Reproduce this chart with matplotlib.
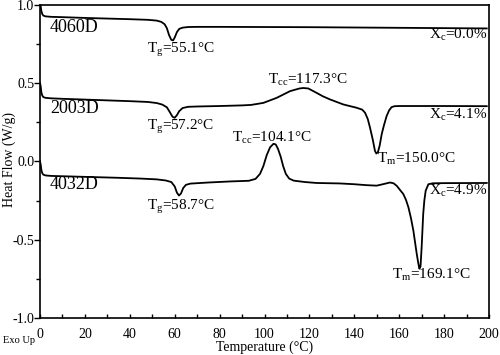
import numpy as np
import matplotlib
matplotlib.use('Agg')
import matplotlib.pyplot as plt
from matplotlib.ticker import MultipleLocator

plt.rcParams.update({
    'font.family': 'Liberation Serif',
    'mathtext.fontset': 'custom',
    'mathtext.rm': 'Liberation Serif',
    'axes.unicode_minus': False,
})

# DSC curves: temperature (°C), heat flow (W/g)
t_4060 = [0, 0.3, 0.6, 1.0, 1.5, 2.5, 5, 10, 20, 30, 40, 48, 52, 54, 55.5, 56.5,
          57.5, 58.5, 59.3, 60.0, 61, 62, 63.5, 66, 70, 80, 100, 120, 140, 160,
          180, 199]
hf_4060 = [1.00, 0.99, 0.96, 0.94, 0.930, 0.925, 0.922, 0.920, 0.915, 0.911,
           0.907, 0.903, 0.898, 0.890, 0.875, 0.850, 0.805, 0.775, 0.772, 0.790,
           0.825, 0.845, 0.853, 0.857, 0.858, 0.858, 0.857, 0.856, 0.854, 0.852,
           0.850, 0.848]

t_2003 = [0, 0.3, 0.6, 1.0, 1.5, 2.5, 5, 10, 20, 30, 40, 48, 52, 54.5, 56.5,
          57.8, 59, 60, 61, 62, 63.5, 66, 70, 80, 90, 94, 99.5, 105.4, 111.4,
          115.6, 117.3, 119.5, 123.2, 126, 129.2, 135.1, 141, 143.5, 144.8, 146,
          147, 148.2, 149.2, 149.8, 150.5, 151.3, 152.2, 153.3, 154.4, 155.5,
          156.6, 158, 160, 180, 199]
hf_2003 = [0.50, 0.48, 0.44, 0.42, 0.41, 0.405, 0.402, 0.399, 0.394, 0.389,
           0.384, 0.379, 0.372, 0.362, 0.345, 0.315, 0.285, 0.278, 0.295, 0.320,
           0.340, 0.348, 0.350, 0.353, 0.357, 0.360, 0.373, 0.405, 0.448, 0.465,
           0.468, 0.465, 0.437, 0.415, 0.395, 0.363, 0.342, 0.330, 0.310, 0.270,
           0.215, 0.140, 0.067, 0.050, 0.058, 0.100, 0.173, 0.235, 0.289, 0.325,
           0.346, 0.352, 0.353, 0.353, 0.352]

t_4032 = [0, 0.3, 0.6, 1.0, 1.5, 2.5, 5, 15, 25, 35, 45, 52, 56, 58.5, 60, 61,
          61.9, 62.8, 63.8, 65, 67, 75, 85, 93, 96, 98, 99.5, 101, 102.5, 104,
          105, 106, 107.2, 108.3, 109.5, 111, 113, 118, 123.2, 133.6, 140, 145.5,
          150, 153, 155.9, 157.5, 158.9, 160.5, 161.8, 163, 164.1, 165.2, 166.3,
          167.8, 168.5, 169.0, 169.5, 170, 170.7, 171.2, 171.8, 173, 175, 180, 199]
hf_4032 = [0.00, -0.02, -0.055, -0.075, -0.085, -0.090, -0.093, -0.097, -0.101,
           -0.105, -0.110, -0.115, -0.122, -0.132, -0.160, -0.200, -0.218, -0.205,
           -0.170, -0.150, -0.142, -0.135, -0.128, -0.124, -0.112, -0.080, -0.030,
           0.040, 0.090, 0.112, 0.108, 0.080, 0.030, -0.030, -0.080, -0.110,
           -0.123, -0.132, -0.138, -0.141, -0.146, -0.152, -0.155, -0.145, -0.135,
           -0.140, -0.156, -0.185, -0.208, -0.245, -0.293, -0.360, -0.441, -0.589,
           -0.650, -0.685, -0.670, -0.547, -0.335, -0.250, -0.187, -0.146, -0.140,
           -0.139, -0.138]

fig = plt.figure(figsize=(5.0, 3.55), dpi=100)
ax = fig.add_axes([0.08, 0.104, 0.898, 0.883])

for t, hf in [(t_4060, hf_4060), (t_2003, hf_2003), (t_4032, hf_4032)]:
    ax.plot(t, hf, color='black', lw=1.3)

ax.set_xlim(0, 200)
ax.set_ylim(-1.0, 1.0)
ax.xaxis.set_major_locator(MultipleLocator(20))
ax.xaxis.set_minor_locator(MultipleLocator(10))
ax.yaxis.set_major_locator(MultipleLocator(0.5))
ax.yaxis.set_minor_locator(MultipleLocator(0.25))
ax.yaxis.set_major_formatter(plt.FuncFormatter(lambda v, p: f'{v:.1f}'))
ax.tick_params(axis='x', which='both', direction='in', length=3, width=1, labelsize=10, pad=7)
ax.tick_params(axis='y', which='major', direction='out', length=4, width=1, labelsize=10, pad=0)
ax.tick_params(axis='y', which='minor', direction='out', length=3, width=1)
for s in ax.spines.values():
    s.set_linewidth(1.2)

# sample names
ax.text(4.5, 0.854, '4060D', fontsize=13, va='center', ha='left')
ax.text(4.5, 0.336, '2003D', fontsize=13, va='center', ha='left')
ax.text(4.5, -0.150, '4032D', fontsize=13, va='center', ha='left')

# annotations
ann = 11
ax.text(47.7, 0.714, r'T$_{\mathrm{g}}$=55.1°C', fontsize=ann, va='center')
ax.text(47.7, 0.219, r'T$_{\mathrm{g}}$=57.2°C', fontsize=ann, va='center')
ax.text(47.7, -0.289, r'T$_{\mathrm{g}}$=58.7°C', fontsize=ann, va='center')
ax.text(101.6, 0.524, r'T$_{\mathrm{cc}}$=117.3°C', fontsize=ann, va='center')
ax.text(85.5, 0.150, r'T$_{\mathrm{cc}}$=104.1°C', fontsize=ann, va='center')
ax.text(150.2, 0.019, r'T$_{\mathrm{m}}$=150.0°C', fontsize=ann, va='center')
ax.text(156.8, -0.720, r'T$_{\mathrm{m}}$=169.1°C', fontsize=ann, va='center')
ax.text(199, 0.810, r'X$_{\mathrm{c}}$=0.0%', fontsize=ann, va='center', ha='right')
ax.text(199, 0.300, r'X$_{\mathrm{c}}$=4.1%', fontsize=ann, va='center', ha='right')
ax.text(199, -0.187, r'X$_{\mathrm{c}}$=4.9%', fontsize=ann, va='center', ha='right')

ax.set_xlabel('Temperature (°C)', fontsize=10, labelpad=0)
fig.text(0.018, 0.55, 'Heat Flow (W/g)', fontsize=10, rotation=90, va='center', ha='center')
fig.text(0.006, 0.042, 'Exo Up', fontsize=7.5, va='center', ha='left')

fig.savefig('out.png', dpi=100)
